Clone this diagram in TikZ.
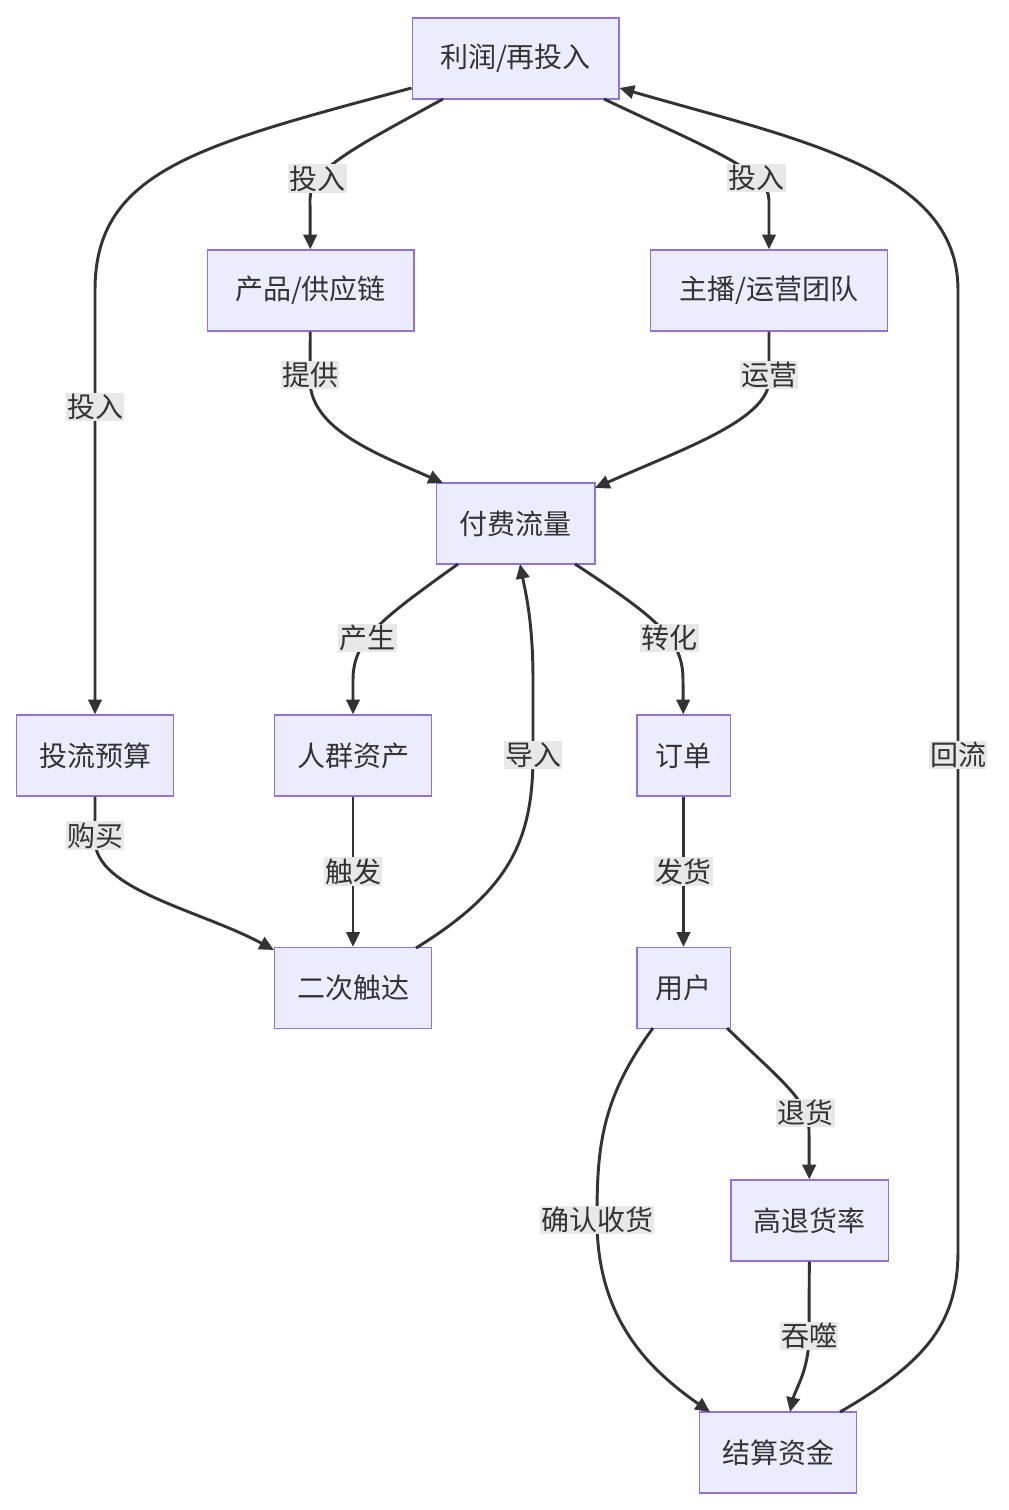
\documentclass[tikz,border=0pt]{standalone}
\usepackage{fontspec}
\setmainfont{Noto Sans CJK SC}
\usetikzlibrary{arrows.meta}
\definecolor{boxfill}{HTML}{ECECFF}
\definecolor{boxline}{HTML}{9370DB}
\definecolor{ink}{HTML}{333333}
\definecolor{lblfill}{HTML}{E8E8E8}
\begin{document}
\begin{tikzpicture}[x=0.75pt,y=-0.75pt,>={Triangle[length=11pt,width=10pt]}]

  \tikzstyle{box}=[rectangle,draw=boxline,fill=boxfill,line width=1pt,minimum height=60.75pt,text=ink,font=\fontsize{21}{24}\selectfont,inner xsep=10pt]
  \tikzstyle{flow}=[->,draw=ink,line width=2.2pt]
  \tikzstyle{lbl}=[fill=lblfill,text=ink,inner sep=1pt,font=\fontsize{21}{24}\selectfont]

    \useasboundingbox (0,0) rectangle (1008,1510);

    \node [box,minimum width=155pt] (profit) at (515.5,58.5)  {利润/再投入};
    \node [box,minimum width=155pt] (supply) at (310.5,290.5) {产品/供应链};
    \node [box,minimum width=178pt] (team)   at (769,290.5)   {主播/运营团队};
    \node [box,minimum width=119pt] (paid)   at (515.5,523.5) {付费流量};
    \node [box,minimum width=118pt] (budget) at (95,755.5)    {投流预算};
    \node [box,minimum width=118pt] (crowd)  at (353,755.5)   {人群资产};
    \node [box,minimum width=70pt]  (order)  at (683.5,755.5) {订单};
    \node [box,minimum width=118pt] (reach)  at (353,988)     {二次触达};
    \node [box,minimum width=70pt]  (user)   at (683.5,988)   {用户};
    \node [box,minimum width=118pt] (refund) at (809.5,1220.5){高退货率};
    \node [box,minimum width=118pt] (settle) at (778,1452.5)  {结算资金};

    \draw [flow] (profit.west |- 0,88) .. controls (200,145) and (95,170) .. (95,290) -- (95,407) node[lbl] {投入} -- (budget); %budget
    \draw [flow] (443,99) .. controls (350,150) and (310,170) .. (310,200) node[pos=0.75,lbl] {投入} -- (supply); %supply
    \draw [flow] (604,99) .. controls (700,145) and (769,170) .. (769,200) node[pos=0.75,lbl] {投入} -- (team); %team
    \draw [flow] (supply) -- (310,380) node[pos=0.9,lbl] {提供} .. controls (310,430) and (380,455) .. (443,483); %provide
    \draw [flow] (team) -- (769,380) node[pos=0.9,lbl] {运营} .. controls (769,420) and (680,450) .. (595,488); %operate
    \draw [flow] (458,564) .. controls (380,620) and (353,640) .. (353,680) node[pos=0.6,lbl] {产生} -- (crowd); %crowd
    \draw [flow] (575,564) .. controls (660,620) and (683,640) .. (683,680) node[pos=0.6,lbl] {转化} -- (order); %order
    \draw [flow] (416,948) .. controls (510,890) and (533,840) .. (533,755) node[lbl] {导入} -- (533,680) .. controls (533,620) and (525,590) .. (520,564); %back to paid
    \draw [flow] (budget) -- (95,840) node[pos=0.9,lbl] {购买} .. controls (95,890) and (200,910) .. (274,950); %buy
    \draw [flow] (crowd) -- node[lbl] {触发} (reach);
    \draw [flow] (order) -- node[lbl] {发货} (user);
    \draw [flow] (727,1028) .. controls (780,1080) and (809,1100) .. (809,1130) node[pos=0.8,lbl] {退货} -- (refund); %refund
    \draw [flow] (653,1028) .. controls (600,1100) and (597,1150) .. (597,1220) node[lbl] {确认收货} .. controls (597,1320) and (650,1370) .. (710,1412); %confirm
    \draw [flow] (refund) -- (809,1336) node[lbl] {吞噬} .. controls (809,1370) and (795,1390) .. (790,1412); %eat
    \draw [flow] (840,1412) .. controls (930,1360) and (958,1320) .. (958,1250) -- (958,755) node[lbl] {回流} -- (958,290) .. controls (958,170) and (800,140) .. (profit.east |- 0,88); %return
\end{tikzpicture}
\end{document}
